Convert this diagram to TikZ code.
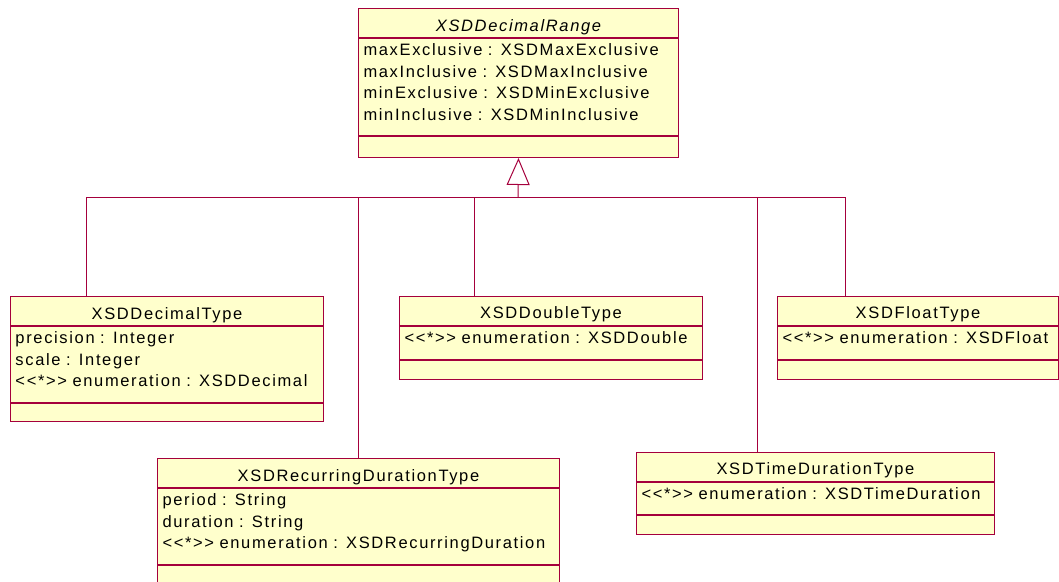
\documentclass[tikz,border=0pt]{standalone}
\usepackage{fontspec}
\setmainfont{Liberation Sans}
\newfontfamily\umlfont[LetterSpace=10]{Liberation Sans}
\usetikzlibrary{arrows.meta,positioning}
\definecolor{umlline}{RGB}{165,0,60}
\definecolor{umlfill}{RGB}{255,255,204}
\newcommand\anystereo{\textless\textless*\textgreater\textgreater}
\tikzset{umlname/.style={rectangle,draw=umlline,fill=umlfill,line width=1pt,inner sep=0pt,minimum height=28.5pt,minimum width=#1,text height=16pt,text depth=0pt,font=\umlfont\fontsize{16.5pt}{21.5pt}\selectfont}}
\tikzset{umlattr/.style 2 args={umlname=#1,align=left,inner xsep=5pt,text width=#1-10pt,text height=17pt,text depth=#2-17pt}}
\tikzset{umlops/.style={umlname=#1,minimum height=19pt}}
\tikzset{umledge/.style={draw=umlline,line width=1pt,line cap=rect}}
\tikzset{umlgen/.style={umledge,-{Triangle[open,length=27pt,width=23pt]}}}

\begin{document}
\begin{tikzpicture}[x=1pt,y=-1pt]
  \useasboundingbox (0,0) rectangle (1059,581);
  \clip (0,0) rectangle (1059,581);
  \node[umlname=320pt,anchor=north west,minimum height=29pt] (range) at (358,8) {\itshape XSDDecimalRange};
  \node[umlattr={320pt}{97pt},below=0pt of range] (rangeattr) {maxExclusive : XSDMaxExclusive\\maxInclusive : XSDMaxInclusive\\minExclusive : XSDMinExclusive\\minInclusive : XSDMinInclusive};
  \node[umlops=320pt,below=0pt of rangeattr,minimum height=21pt] (rangeops) {};

  \node[umlname=313pt,anchor=north west,minimum height=29pt] (dec) at (10,296) {XSDDecimalType};
  \node[umlattr={313pt}{76pt},below=0pt of dec] (decattr) {precision : Integer\\scale : Integer\\\anystereo{} enumeration : XSDDecimal};
  \node[umlops=313pt,below=0pt of decattr,minimum height=18pt] (decops) {};

  \node[umlname=402pt,anchor=north west,minimum height=29pt] (rec) at (157,458) {XSDRecurringDurationType};
  \node[umlattr={402pt}{76pt},below=0pt of rec] (recattr) {period : String\\duration : String\\\anystereo{} enumeration : XSDRecurringDuration};
  \node[umlops=402pt,below=0pt of recattr,minimum height=30pt] (recops) {};

  \node[umlname=303pt,anchor=north west] (dbl) at (399,296) {XSDDoubleType};
  \node[umlattr={303pt}{33pt},below=0pt of dbl] (dblattr) {\anystereo{} enumeration : XSDDouble};
  \node[umlops=303pt,below=0pt of dblattr] (dblops) {};

  \node[umlname=281pt,anchor=north west] (flt) at (777,296) {XSDFloatType};
  \node[umlattr={281pt}{33pt},below=0pt of flt] (fltattr) {\anystereo{} enumeration : XSDFloat};
  \node[umlops=281pt,below=0pt of fltattr] (fltops) {};

  \node[umlname=358pt,anchor=north west] (tim) at (636,452) {XSDTimeDurationType};
  \node[umlattr={358pt}{32pt},below=0pt of tim] (timattr) {\anystereo{} enumeration : XSDTimeDuration};
  \node[umlops=358pt,below=0pt of timattr] (timops) {};

  \coordinate (hub) at (518,197);
  \coordinate (decjoin) at (86,197);
  \coordinate (recjoin) at (358,197);
  \coordinate (dbljoin) at (474,197);
  \coordinate (timjoin) at (757,197);
  \coordinate (fltjoin) at (845,197);
  \draw[umlgen] (hub) -- (rangeops.south);
  \draw[umledge] (decjoin) -- (fltjoin);
  \draw[umledge] (decjoin) -- (decjoin |- dec.north)
                 (recjoin) -- (recjoin |- rec.north)
                 (dbljoin) -- (dbljoin |- dbl.north)
                 (timjoin) -- (timjoin |- tim.north)
                 (fltjoin) -- (fltjoin |- flt.north);
\end{tikzpicture}
\end{document}
